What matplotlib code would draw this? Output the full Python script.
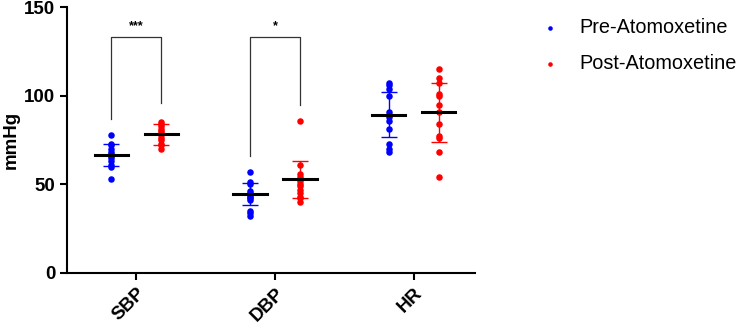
import numpy as np
import matplotlib.pyplot as plt

plt.rcParams['font.family'] = ['Liberation Sans', 'DejaVu Sans']

categories = ['SBP', 'DBP', 'HR']

pre_values = [
    [78, 73, 72, 70, 68, 67, 66, 65, 63, 61, 60, 53],
    [57, 51, 50, 46, 45, 44, 43, 42, 41, 35, 34, 32],
    [107, 106, 104, 100, 91, 89, 88, 86, 81, 73, 70, 68],
]
post_values = [
    [85, 84, 83, 81, 80, 79, 78, 76, 75, 73, 72, 70],
    [86, 61, 56, 54, 52, 50, 49, 47, 45, 43, 42, 40],
    [115, 110, 107, 101, 100, 95, 91, 84, 77, 76, 68, 54],
]
mean_pre = [66.5, 44.4, 89.3]
sd_pre = [6.0, 6.4, 12.8]
mean_post = [78.2, 52.9, 90.6]
sd_post = [6.0, 10.4, 16.5]

# significance brackets: (category, left leg bottom, right leg bottom, top, label)
brackets = [(0, 87, 96, 133, '***'), (1, 66, 95, 133, '*')]

fig = plt.figure(figsize=(7.48, 3.30), dpi=100)
ax = fig.add_axes([0.0896, 0.1736, 0.545, 0.8044])

off = 0.18
for i in range(len(categories)):
    for vals, m, s, col, dx in [(pre_values[i], mean_pre[i], sd_pre[i], 'blue', -off),
                                (post_values[i], mean_post[i], sd_post[i], 'red', off)]:
        x = i + dx
        ax.scatter(np.full(len(vals), x), vals, s=22, color=col, zorder=3, linewidths=0)
        ax.errorbar(x, m, yerr=s, color=col, capsize=6, elinewidth=1, capthick=1, zorder=2)
        ax.plot([x - 0.12, x + 0.12], [m, m], color='black', lw=2.2, zorder=4)

for i, yl, yr, top, lab in brackets:
    xl, xr = i - off, i + off
    ax.plot([xl, xl, xr, xr], [yl, top, top, yr], color='#333333', lw=0.9)
    ax.text(i, top + 3, lab, ha='center', va='bottom', fontsize=9, fontweight='bold')

ax.set_xlim(-0.5, 2.44)
ax.set_ylim(0, 150)
ax.set_yticks([0, 50, 100, 150])
ax.set_xticks(range(len(categories)))
ax.set_xticklabels(categories, rotation=45, ha='right', rotation_mode='anchor')
for lab in ax.get_xticklabels() + ax.get_yticklabels():
    lab.set_fontweight('bold')
    lab.set_fontsize(13.5)
ax.set_ylabel('mmHg', fontsize=13.5, fontweight='bold', labelpad=3)
ax.spines['top'].set_visible(False)
ax.spines['right'].set_visible(False)
ax.spines['left'].set_linewidth(1.5)
ax.spines['bottom'].set_linewidth(1.5)
ax.tick_params(width=1.5, length=5)

h1 = ax.scatter([], [], s=22, color='blue', linewidths=0)
h2 = ax.scatter([], [], s=22, color='red', linewidths=0)
fig.legend([h1, h2], ['Pre-Atomoxetine', 'Post-Atomoxetine'], loc='upper left',
           bbox_to_anchor=(0.727, 0.945), frameon=False, fontsize=14.3,
           borderpad=0, borderaxespad=0, markerscale=0.7,
           handletextpad=1.2, labelspacing=0.85, handlelength=0.6)

fig.savefig('out.png', dpi=100)
